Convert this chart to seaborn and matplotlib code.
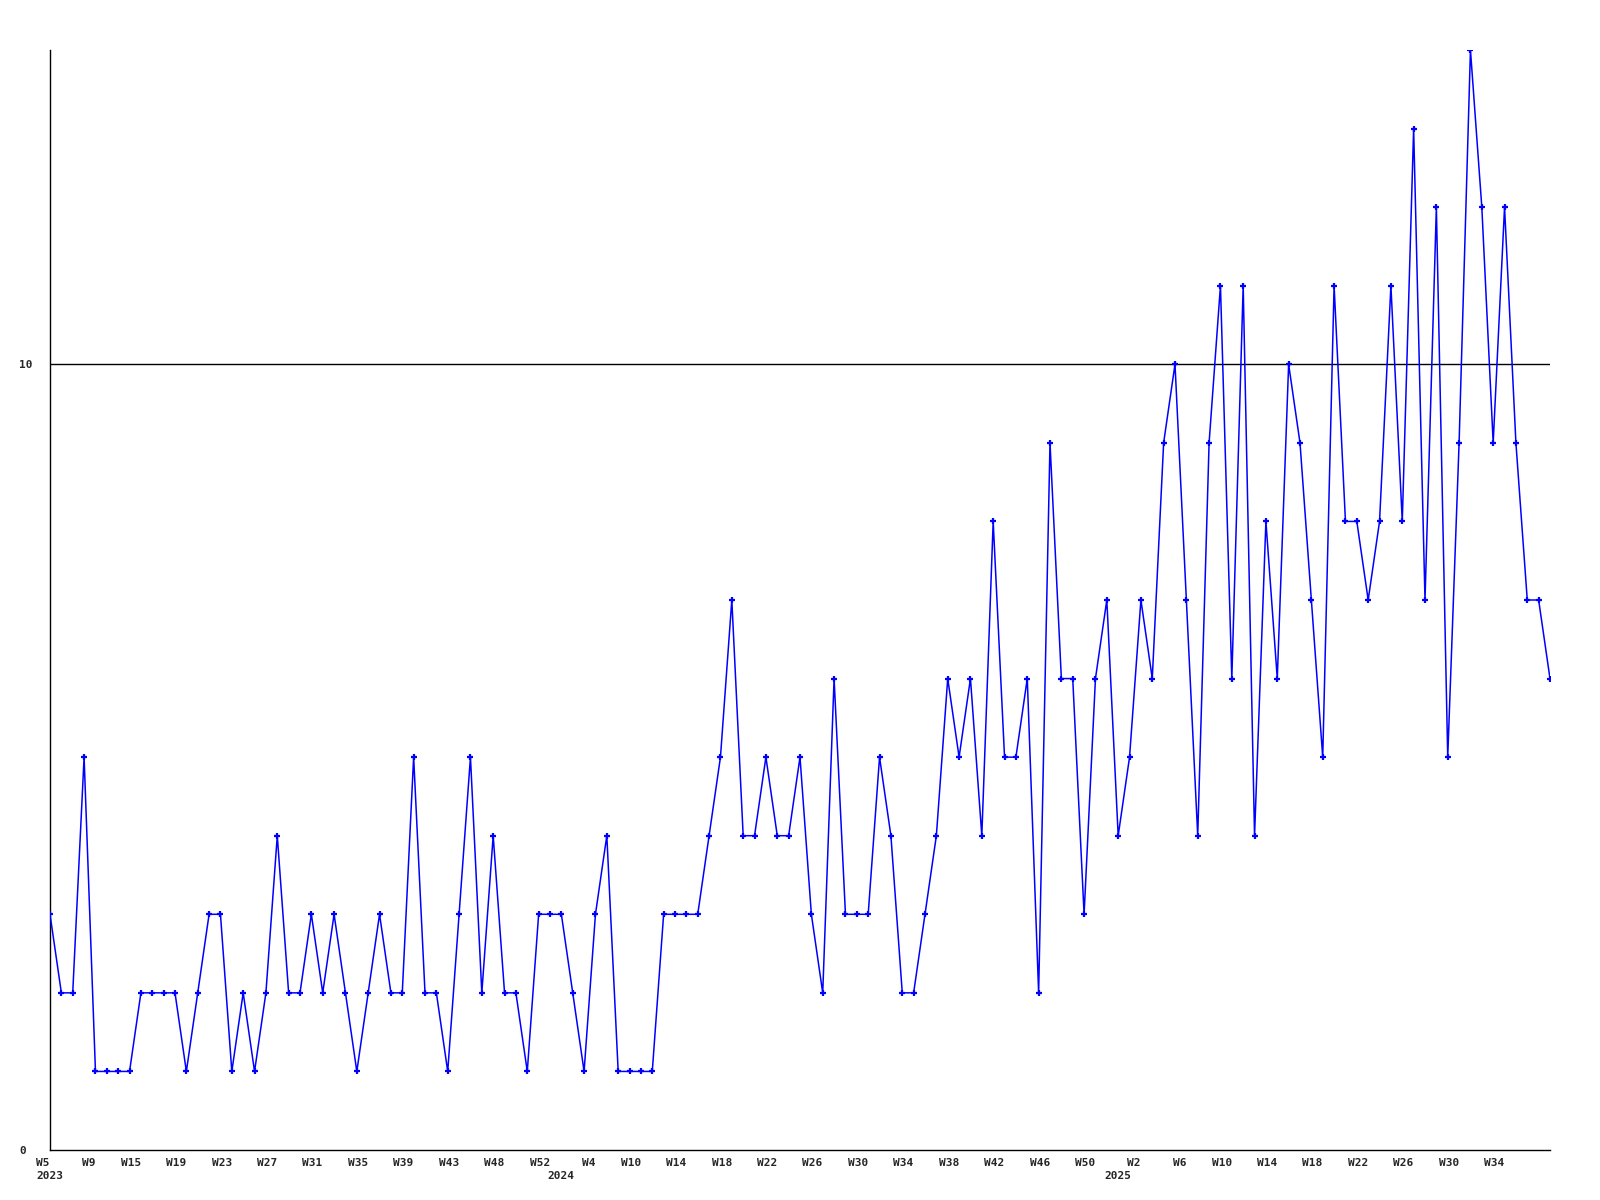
import matplotlib
matplotlib.use("Agg")
import matplotlib.pyplot as plt
import seaborn as sns
import pandas as pd

# weekly counts, one point per week from 2023 W5 onwards
counts = [
    3, 2, 2, 5, 1, 1, 1, 1, 2, 2, 2, 2, 1, 2, 3, 3, 1, 2, 1, 2,
    4, 2, 2, 3, 2, 3, 2, 1, 2, 3, 2, 2, 5, 2, 2, 1, 3, 5, 2, 4,
    2, 2, 1, 3, 3, 3, 2, 1, 3, 4, 1, 1, 1, 1, 3, 3, 3, 3, 4, 5,
    7, 4, 4, 5, 4, 4, 5, 3, 2, 6, 3, 3, 3, 5, 4, 2, 2, 3, 4, 6,
    5, 6, 4, 8, 5, 5, 6, 2, 9, 6, 6, 3, 6, 7, 4, 5, 7, 6, 9, 10,
    7, 4, 9, 11, 6, 11, 4, 8, 6, 10, 9, 7, 5, 11, 8, 8, 7, 8, 11, 8,
    13, 7, 12, 5, 9, 14, 12, 9, 12, 9, 7, 7, 6,
]

# labels shown every 4th point
week_labels = [
    "W5", "W9", "W15", "W19", "W23", "W27", "W31", "W35", "W39", "W43", "W48", "W52",
    "W4", "W10", "W14", "W18", "W22", "W26", "W30", "W34", "W38", "W42", "W46", "W50",
    "W2", "W6", "W10", "W14", "W18", "W22", "W26", "W30", "W34",
]
year_labels = ["2023", "2024", "2025"]
year_index = [0, 45, 94]

df = pd.DataFrame({"idx": range(len(counts)), "count": counts})

sns.set_style("white")
plt.rcParams["font.family"] = ["DejaVu Sans Mono"]
plt.rcParams["font.weight"] = "bold"

fig = plt.figure(figsize=(16, 12), dpi=100)
ax = fig.add_axes([50 / 1600, 50 / 1200, 1500 / 1600, 1100 / 1200])

# reference line at 10
ax.axhline(10, color="black", lw=1, zorder=1)

sns.lineplot(data=df, x="idx", y="count", ax=ax, color="#0000ff", lw=1.1,
             marker="+", markersize=5, markeredgewidth=1.6, markeredgecolor="#0000ff",
             zorder=3)

ax.set_xlim(0, len(counts) - 1)
ax.set_ylim(0, 14)

ax.set_xticks(range(0, 4 * len(week_labels), 4))
ax.set_xticklabels(week_labels, ha="right", fontsize=8, fontweight="bold")
ax.set_yticks([0, 10])
ax.set_yticklabels(["0", "10"], ha="left", fontsize=8, fontweight="bold")
ax.tick_params(axis="x", length=0, pad=6)
ax.tick_params(axis="y", length=0, pad=22)

for lab, i in zip(year_labels, year_index):
    ax.text(i, -0.024, lab, transform=ax.get_xaxis_transform(), ha="center", va="center",
            fontsize=8, fontweight="bold")

ax.set_xlabel("")
ax.set_ylabel("")
for side in ["top", "right"]:
    ax.spines[side].set_visible(False)
for side in ["left", "bottom"]:
    ax.spines[side].set_color("black")
    ax.spines[side].set_linewidth(1.0)

fig.savefig("out.png", dpi=100)
